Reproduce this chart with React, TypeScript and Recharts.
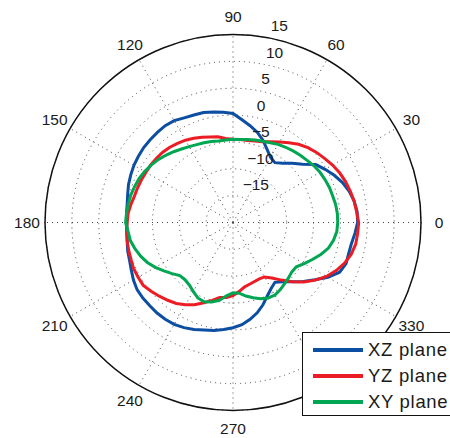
import React from 'react';
import {
  RadarChart,
  Radar,
  PolarGrid,
  PolarAngleAxis,
  PolarRadiusAxis,
  Legend,
} from 'recharts';

const ANGLES = [
  0, 5, 10, 15, 20, 25, 30, 35, 40, 45, 50, 55, 60, 65, 70, 75, 80, 85,
  90, 95, 100, 105, 110, 115, 120, 125, 130, 135, 140, 145, 150, 155, 160, 165, 170, 175,
  180, 185, 190, 195, 200, 205, 210, 215, 220, 225, 230, 235, 240, 245, 250, 255, 260, 265,
  270, 275, 280, 285, 290, 295, 300, 305, 310, 315, 320, 325, 330, 335, 340, 345, 350, 355,
];

const XZ_PLANE = [
  3.2, 3.2, 2.9, 2.4, 1.7, 0.8, -0.2, -1.2, -3.1, -4.4, -5.6, -6.4, -6.0, -5.0, -3.7, -2.6, -1.7, -0.8,
  0.3, 0.6, 0.9, 1.2, 1.3, 1.5, 1.9, 2.0, 1.9, 1.8, 1.7, 1.5, 1.3, 1.0, 0.7, 0.3, 0.0, -0.1,
  -0.2, -0.2, 0.0, 0.3, 0.5, 0.9, 1.4, 1.8, 1.9, 1.9, 2.0, 2.0, 1.9, 1.6, 1.2, 0.7, 0.4, 0.0,
  -0.4, -0.9, -1.7, -2.6, -3.7, -4.9, -5.8, -6.4, -5.6, -4.4, -2.9, -1.4, 0.4, 1.9, 2.4, 2.3, 2.4, 2.8,
];

const YZ_PLANE = [
  3.4, 3.1, 2.9, 2.6, 2.3, 1.9, 1.4, 0.8, 0.3, -0.3, -1.0, -1.9, -2.7, -3.4, -4.0, -4.3, -4.5, -4.5,
  -4.5, -4.3, -3.8, -3.5, -3.1, -2.7, -2.3, -2.0, -1.7, -1.5, -1.4, -1.3, -1.3, -1.2, -1.1, -1.0, -0.7, -0.4,
  -0.3, -0.1, 0.0, 0.1, 0.2, 0.4, 0.4, 0.4, -0.1, -0.6, -1.1, -1.6, -2.3, -3.1, -4.1, -5.0, -5.8, -6.0,
  -6.4, -7.1, -7.8, -8.1, -8.3, -8.4, -8.3, -7.4, -6.0, -4.4, -2.8, -1.3, 0.1, 1.2, 2.1, 2.8, 3.2, 3.3,
];

const XY_PLANE = [
  -0.5, -0.5, -0.6, -0.8, -0.9, -1.1, -1.3, -1.6, -2.0, -2.3, -2.6, -2.9, -3.2, -3.6, -3.9, -4.1, -4.3, -4.5,
  -4.5, -4.6, -4.6, -4.4, -4.2, -4.0, -3.7, -3.3, -2.8, -2.3, -1.8, -1.4, -1.0, -0.7, -0.5, -0.3, -0.2, -0.1,
  0.0, -0.4, -0.6, -1.1, -1.7, -2.4, -3.3, -4.3, -5.2, -6.0, -6.1, -5.8, -5.2, -4.5, -4.3, -4.7, -5.3, -6.3,
  -6.9, -6.8, -6.1, -5.5, -4.9, -4.5, -4.4, -4.7, -5.1, -5.4, -5.7, -5.6, -4.7, -3.7, -2.6, -1.6, -1.0, -0.6,
];

const ANGLE_TICKS = [0, 30, 60, 90, 120, 150, 180, 210, 240, 270, 300, 330];
const RADIUS_TICKS = [-15, -10, -5, 0, 5, 10, 15];

const SERIES = [
  { key: 'xz', label: 'XZ plane', color: '#0b4ea2' },
  { key: 'yz', label: 'YZ plane', color: '#ec1c24' },
  { key: 'xy', label: 'XY plane', color: '#00a651' },
];

const data = ANGLES.map((angle, i) => ({
  angle,
  xz: XZ_PLANE[i],
  yz: YZ_PLANE[i],
  xy: XY_PLANE[i],
}));

const FONT = '"Liberation Sans", Arial, Helvetica, sans-serif';
const TEXT = '#1a1a1a';

function AngleTick(props: any) {
  const { x, y, payload } = props;
  if (payload.value >= 360) return <g />;
  return (
    <text x={x} y={y} textAnchor="middle" dominantBaseline="central"
      fontSize={15.5} fontFamily={FONT} fill={TEXT}>
      {payload.value}
    </text>
  );
}

function RadiusTick(props: any) {
  const { x, y, payload } = props;
  if (payload.value <= -20) return <g />;
  const label = payload.value < 0 ? `\u2212${Math.abs(payload.value)}` : String(payload.value);
  return (
    <text x={x + 5} y={y - 11.5} textAnchor="start" dominantBaseline="central"
      fontSize={15.5} fontFamily={FONT} fill={TEXT}>
      {label}
    </text>
  );
}

function LegendBox() {
  return (
    <div style={{
      width: 160, height: 84, boxSizing: 'border-box', background: '#fff',
      border: '1.5px solid #111', fontFamily: FONT, paddingTop: 4,
    }}>
      {SERIES.map((s) => (
        <div key={s.key} style={{ display: 'flex', alignItems: 'center', height: 26 }}>
          <div style={{ width: 50, height: 3.5, background: s.color, marginLeft: 10 }} />
          <span style={{ marginLeft: 5, fontSize: 18.5, color: TEXT, letterSpacing: 0.7 }}>{s.label}</span>
        </div>
      ))}
    </div>
  );
}

export default function App() {
  return (
    <div style={{ position: 'absolute', left: 0, top: 0, width: 450, height: 438, overflow: 'hidden', background: '#fff' }}>
      <RadarChart
        width={450}
        height={438}
        data={data}
        cx={233}
        cy={222.5}
        innerRadius={0}
        outerRadius={188}
        startAngle={0}
        endAngle={360}
        margin={{ top: 0, right: 0, bottom: 0, left: 0 }}
      >
        <PolarGrid gridType="circle" stroke="#444" strokeDasharray="1 4" />
        <PolarAngleAxis
          dataKey="angle"
          type="number"
          domain={[0, 360]}
          ticks={ANGLE_TICKS}
          tickCount={13}
          tick={AngleTick}
          tickLine={false}
          tickSize={18}
          axisLineType="circle"
          axisLine={{ stroke: '#111', strokeWidth: 1.5 }}
        />
        <PolarRadiusAxis
          type="number"
          angle={80}
          domain={[-20, 15]}
          ticks={RADIUS_TICKS}
          tickCount={8}
          tick={RadiusTick}
          axisLine={false}
          allowDataOverflow
        />
        {SERIES.map((s) => (
          <Radar
            key={s.key}
            name={s.label}
            dataKey={s.key}
            stroke={s.color}
            strokeWidth={3}
            fill="none"
            fillOpacity={0}
            dot={false}
            legendType="line"
            isAnimationActive={false}
          />
        ))}
        <Legend
          layout="vertical"
          align="center"
          verticalAlign="middle"
          content={() => <LegendBox />}
          wrapperStyle={{ left: 302, top: 332, width: 160 }}
        />
      </RadarChart>
    </div>
  );
}
